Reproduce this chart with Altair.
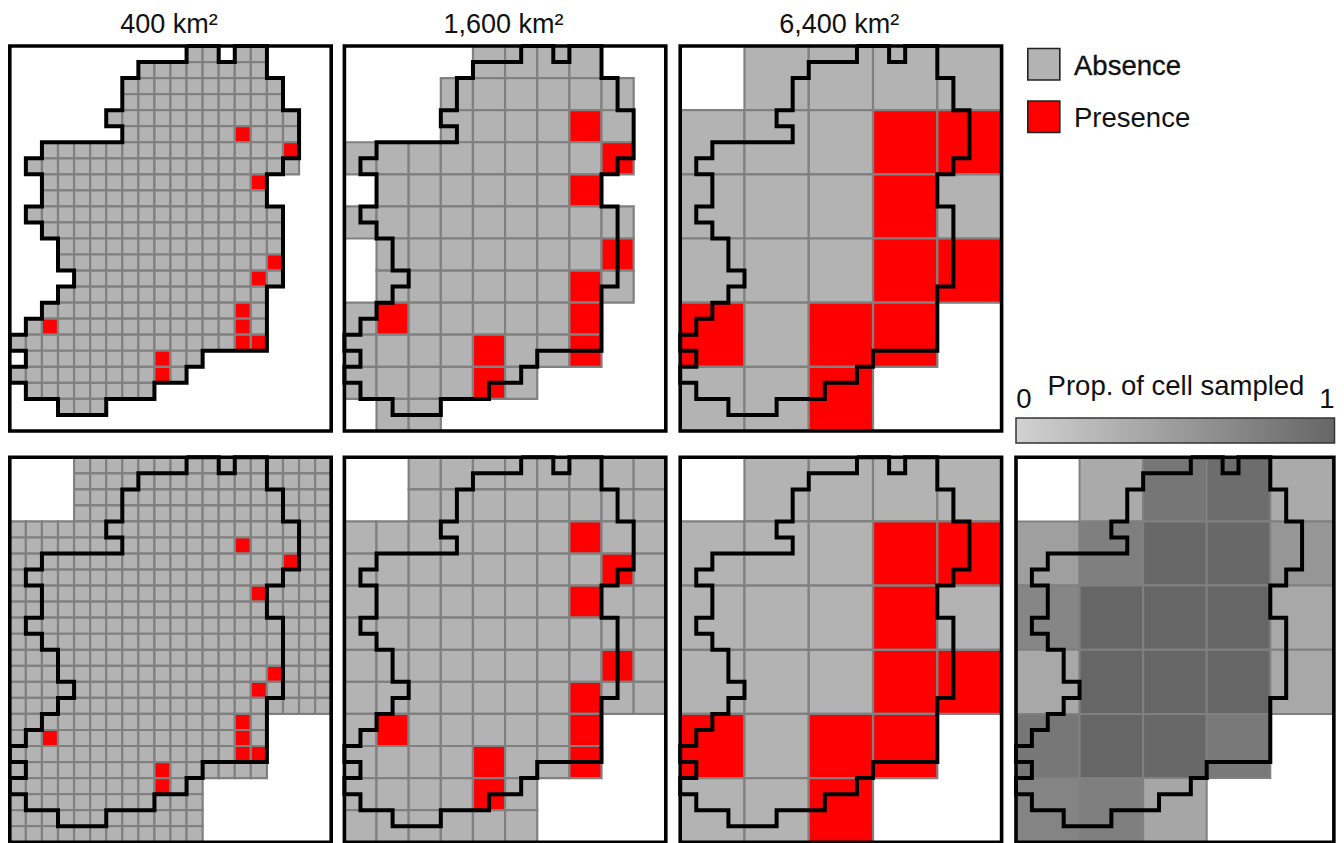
import altair as alt
import pandas as pd

# ---------- data: cell indices on each grid ----------
OUTLINE_X = [11,11,8,8,7,7,6,6,7,7,2,2,1,1,2,2,1,1,2,2,3,3,4,4,3,3,2,2,1,1,0,0,1,1,0,0,1,1,3,3,6,6,9,9,11,11,12,12,16,16,17,17,16,16,17,17,18,18,17,17,16,16,14,14,13,13,11]
OUTLINE_Y = [0,1,1,2,2,4,4,5,5,6,6,7,7,8,8,10,10,11,11,12,12,14,14,15,15,16,16,17,17,18,18,19,19,20,20,21,21,22,22,23,23,22,22,21,21,20,20,19,19,15,15,10,10,8,8,7,7,4,4,2,2,0,0,1,1,0,0]

# (first column, last column) occupied in every row
FINE_LAND_ROWS = [[(11,12),(14,15)],[(8,15)],[(7,16)],[(7,16)],[(6,17)],[(7,17)],[(2,17)],[(1,17)],[(2,15)],[(2,15)],
                  [(1,16)],[(2,16)],[(3,16)],[(3,16)],[(4,16)],[(3,15)],[(2,15)],[(1,15)],[(0,15)],[(1,11)],[(0,10)],[(1,8)],[(3,5)]]
FINE_BUFFER_ROWS = [[(4,19)]]*4 + [[(0,19)]]*12 + [[(0,15)]]*4 + [[(0,11)]]*4
FINE_RED = [(14,5),(17,6),(15,8),(16,13),(15,14),(14,16),(14,17),(14,18),(15,18),(2,17),(9,19),(9,20)]

MID_LAND_ROWS = [[(4,7)],[(3,8)],[(3,8)],[(0,8)],[(1,7)],[(0,8)],[(1,8)],[(1,8)],[(0,7)],[(0,7)],[(0,5)],[(1,2)]]
MID_BUFFER_ROWS = [[(2,9)]]*2 + [[(0,9)]]*6 + [[(0,7)]]*2 + [[(0,5)]]*2
MID_RED = [(7,2),(8,3),(7,4),(8,6),(7,7),(1,8),(7,8),(4,9),(7,9),(4,10)]

COARSE_ROWS = [[(1,4)],[(0,4)],[(0,4)],[(0,4)],[(0,3)],[(0,2)]]
COARSE_RED = [(3,1),(4,1),(3,2),(3,3),(4,3),(0,4),(2,4),(3,4),(2,5)]

PROP_SAMPLED = [[None,0.36,0.84,0.93,0.36],
                [0.46,0.76,0.98,0.98,0.54],
                [0.69,1.00,1.00,1.00,0.37],
                [0.37,1.00,1.00,1.00,0.37],
                [0.83,1.00,0.98,0.81,None],
                [0.71,0.76,0.39,None,None]]

TITLES = ["400 km²", "1,600 km²", "6,400 km²"]
LEGEND_LABELS = ["Absence", "Presence"]

# ---------- layout: page pixels <-> km on the map ----------
KM_X, KM_Y = 0.8035, 0.802          # px per km
W, H = 1328, 835
LEFTS = [9.8, 344.4, 680.2, 1016.0]
XSCALE = [1.0, 1.0, 1.0, 0.989]     # last panel squeezed a little so its frame fits the page
TOPS = [46.0, 457.3]
def xkm(px): return (px - 8) / KM_X
def ykm(px): return (px - 8) / KM_Y

xs = alt.Scale(domain=[0, W / KM_X], range=[0, W], nice=False, zero=False)
ys = alt.Scale(domain=[0, H / KM_Y], reverse=True, nice=False, zero=False)
X = alt.X("x:Q", scale=xs, axis=None); X2 = alt.X2("x2:Q")
Y = alt.Y("y:Q", scale=ys, axis=None); Y2 = alt.Y2("y2:Q")
STATE = alt.Color("state:N", legend=None,
                  scale=alt.Scale(domain=LEGEND_LABELS, range=["#b3b3b3", "#ff0000"]))

def box(col, row, size, pi, ti):
    return dict(x=xkm(LEFTS[pi]) + col * size * XSCALE[pi], x2=xkm(LEFTS[pi]) + (col + 1) * size * XSCALE[pi],
                y=ykm(TOPS[ti]) + row * size, y2=ykm(TOPS[ti]) + (row + 1) * size)

def cells(rows, red, size, pi, ti):
    out = []
    for r, spans in enumerate(rows):
        for a, b in spans:
            for c in range(a, b + 1):
                out.append({**box(c, r, size, pi, ti), "state": "Presence" if (c, r) in red else "Absence"})
    return out

grid = (cells(FINE_LAND_ROWS, FINE_RED, 20, 0, 0) + cells(MID_LAND_ROWS, MID_RED, 40, 1, 0) + cells(COARSE_ROWS, COARSE_RED, 80, 2, 0)
        + cells(FINE_BUFFER_ROWS, FINE_RED, 20, 0, 1) + cells(MID_BUFFER_ROWS, MID_RED, 40, 1, 1) + cells(COARSE_ROWS, COARSE_RED, 80, 2, 1))
grid = pd.DataFrame(grid)

prop = pd.DataFrame([{**box(c, r, 80, 3, 1), "p": v}
                     for r, vals in enumerate(PROP_SAMPLED) for c, v in enumerate(vals) if v is not None])

PANELS = [(0,0),(1,0),(2,0),(0,1),(1,1),(2,1),(3,1)]
frames = pd.DataFrame([dict(x=xkm(LEFTS[p]), x2=xkm(LEFTS[p]) + 400 * XSCALE[p], y=ykm(TOPS[t]), y2=ykm(TOPS[t]) + 480)
                       for p, t in PANELS])

outline = pd.DataFrame([dict(panel=f"{p}{t}", seq=i, x=xkm(LEFTS[p]) + vx * 20 * XSCALE[p], y=ykm(TOPS[t]) + vy * 20)
                        for p, t in PANELS
                        for i, (vx, vy) in enumerate(zip(OUTLINE_X, OUTLINE_Y))])

titles = pd.DataFrame([dict(x=xkm(LEFTS[i]) + 198, y=ykm(32.6), t=t) for i, t in enumerate(TITLES)])
legend_boxes = pd.DataFrame([dict(x=xkm(1027.8), x2=xkm(1059.8), y=ykm(48.5), y2=ykm(80), state="Absence"),
                             dict(x=xkm(1027.8), x2=xkm(1059.8), y=ykm(101), y2=ykm(132.5), state="Presence")])
leg_abs = pd.DataFrame([dict(x=xkm(1074), y=ykm(75), t=LEGEND_LABELS[0])])
leg_pre = pd.DataFrame([dict(x=xkm(1074), y=ykm(126.7), t=LEGEND_LABELS[1])])
bar_title = pd.DataFrame([dict(x=xkm(1176), y=ykm(395), t="Prop. of cell sampled"),
                          dict(x=xkm(1024), y=ykm(408), t="0"),
                          dict(x=xkm(1327), y=ykm(408), t="1")])
bar = pd.DataFrame([dict(x=xkm(1016), x2=xkm(1334.5), y=ykm(418), y2=ykm(443))])

FONT = "Liberation Sans"
def text(df, align, size=27.5, **kw):
    return alt.Chart(df).mark_text(font=FONT, fontSize=size, align=align, baseline="alphabetic", color="#111111", **kw).encode(x=X, y=Y, text="t:N")

layers = [
    alt.Chart(grid).mark_rect(stroke="#808080", strokeWidth=2.2).encode(x=X, x2=X2, y=Y, y2=Y2, color=STATE),
    alt.Chart(prop).mark_rect(stroke="#808080", strokeWidth=2).encode(
        x=X, x2=X2, y=Y, y2=Y2,
        color=alt.Color("p:Q", legend=None, scale=alt.Scale(domain=[0, 1], range=["#d2d2d2", "#666666"]))),
    alt.Chart(frames).mark_rect(fill=None, stroke="#000000", strokeWidth=3.6).encode(x=X, x2=X2, y=Y, y2=Y2),
    alt.Chart(outline).mark_line(color="#000000", strokeWidth=4, strokeJoin="miter").encode(
        x=X, y=Y, detail="panel:N", order="seq:Q"),
    alt.Chart(legend_boxes).mark_rect(stroke="#222222", strokeWidth=1.6).encode(x=X, x2=X2, y=Y, y2=Y2, color=STATE),
    alt.Chart(bar).mark_rect(
        stroke="#333333", strokeWidth=1.5,
        color=alt.LinearGradient(gradient="linear", x1=0, x2=1, y1=0, y2=0,
                                 stops=[alt.GradientStop(color="#d2d2d2", offset=0),
                                        alt.GradientStop(color="#666666", offset=1)])
    ).encode(x=X, x2=X2, y=Y, y2=Y2),
    text(titles, "center", size=27),
    text(leg_abs, "left", stroke="#111111", strokeWidth=0.35),
    text(leg_pre, "left"),
    text(bar_title, "center"),
]

chart = alt.layer(*layers).resolve_scale(color="independent").properties(
    width=W, height=H, padding=0, autosize=alt.AutoSizeParams(type="none")
).configure_view(stroke=None)

chart.save("out.html", embed_options={"renderer": "svg", "actions": False})
